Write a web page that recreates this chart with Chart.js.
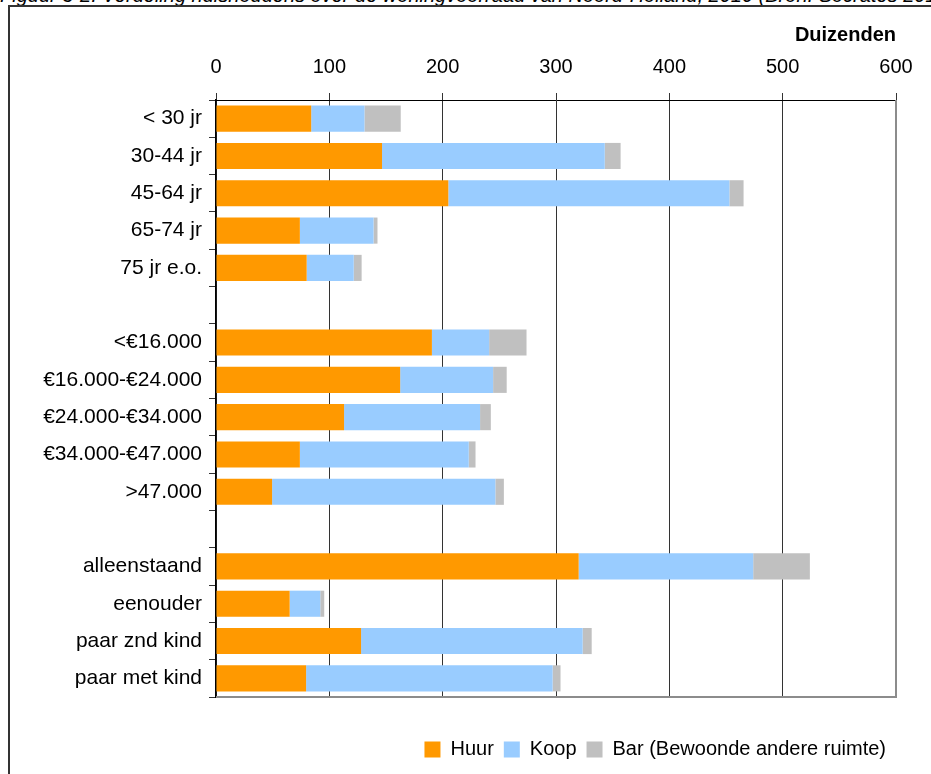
<!DOCTYPE html>
<html>
<head>
<meta charset="utf-8">
<title>Huishoudens naar woningvoorraad</title>
<script src="https://cdn.jsdelivr.net/npm/chart.js@4.4.1/dist/chart.umd.min.js"></script>
<style>
  body { margin: 0; background: #fff; overflow: hidden; }
  #bijschrift {
    position: absolute; left: 0; top: -12px;
    font: italic 20px "Liberation Sans", Arial, sans-serif;
    line-height: 15px; white-space: nowrap; color: #000;
  }
  #kader {
    position: absolute; left: 8px; top: 5px;
    width: 960px; height: 820px; border: 2px solid #333;
  }
  #grafiek { position: absolute; left: 10px; top: 7px; width: 921px; height: 767px; }
</style>
</head>
<body>
<div id="bijschrift">Figuur 3-2: Verdeling huishoudens over de woningvoorraad van Noord-Holland, 2010 (Bron: Socrates 2010)</div>
<div id="kader"></div>
<div id="grafiek"><canvas id="myChart"></canvas></div>
<script>
// categorieen, lege regels scheiden leeftijd, inkomen en huishoudtype
var categorieen = ['< 30 jr', '30-44 jr', '45-64 jr', '65-74 jr', '75 jr e.o.', '',
  '<€16.000', '€16.000-€24.000', '€24.000-€34.000', '€34.000-€47.000', '>47.000', '',
  'alleenstaand', 'eenouder', 'paar znd kind', 'paar met kind'];

// aantallen huishoudens in duizenden
var huur = [84, 146.5, 205, 74, 80, null, 190.5, 162.5, 113, 74, 49.5, null, 320, 65, 128, 79.5];
var koop = [47, 196.5, 248, 65, 41.5, null, 50.5, 82, 120, 149, 197, null, 154, 27, 195.5, 217.5];
var bar = [32, 14, 12.5, 3.5, 7, null, 33, 12, 9.5, 6, 7.5, null, 50, 3.5, 8, 7];

var asMin = 0;
var asMax = 600;
var asStap = 100;

var lettertype = '"Liberation Sans", Arial, sans-serif';

// grijze rand onder en rechts van het plotvlak
var plotKader = {
  id: 'plotKader',
  beforeDatasetsDraw: function(chart) {
    var a = chart.chartArea;
    var ctx = chart.ctx;
    ctx.save();
    ctx.strokeStyle = '#8c8c8c';
    ctx.lineWidth = 2;
    ctx.beginPath();
    ctx.moveTo(a.left, a.bottom);
    ctx.lineTo(a.right, a.bottom);
    ctx.lineTo(a.right, a.top);
    ctx.stroke();
    ctx.restore();
  }
};

var ctx = document.getElementById('myChart').getContext('2d');
var myChart = new Chart(ctx, {
  type: 'bar',
  data: {
    labels: categorieen,
    datasets: [
      { label: 'Huur', data: huur, backgroundColor: '#FF9900', borderWidth: 0 },
      { label: 'Koop', data: koop, backgroundColor: '#99CCFF', borderWidth: 0 },
      { label: 'Bar (Bewoonde andere ruimte)', data: bar, backgroundColor: '#C0C0C0', borderWidth: 0 }
    ]
  },
  options: {
    indexAxis: 'y',
    responsive: true,
    maintainAspectRatio: false,
    animation: false,
    datasets: { bar: { barPercentage: 0.7, categoryPercentage: 1 } },
    layout: { padding: { top: 10, right: 35, bottom: 4.5, left: 0 } },
    scales: {
      x: {
        type: 'linear',
        position: 'top',
        stacked: true,
        min: asMin,
        max: asMax,
        ticks: { stepSize: asStap, color: '#000', padding: 14, font: { family: lettertype, size: 20 } },
        grid: { color: '#333', lineWidth: 1, tickLength: 7 },
        border: { color: '#000', width: 1 },
        title: {
          display: true,
          text: 'Duizenden',
          align: 'end',
          color: '#000',
          padding: { top: 12, bottom: 0 },
          font: { family: lettertype, size: 20, weight: 'bold', lineHeight: 0.6 }
        }
      },
      y: {
        stacked: true,
        ticks: { color: '#000', padding: 7, font: { family: lettertype, size: 21 } },
        grid: { drawOnChartArea: false, offset: true, tickLength: 7, color: '#333' },
        border: { color: '#000', width: 1.5 },
        afterFit: function(scale) { scale.width = 206; }
      }
    },
    plugins: {
      tooltip: { enabled: false },
      legend: {
        position: 'bottom',
        align: 'end',
        title: { display: true, text: ' ', padding: { top: 20.5, bottom: 0 }, font: { size: 10 } },
        labels: {
          boxWidth: 16,
          boxHeight: 16,
          padding: 10,
          color: '#000',
          font: { family: lettertype, size: 20 }
        }
      }
    }
  },
  plugins: [plotKader]
});
</script>
</body>
</html>
